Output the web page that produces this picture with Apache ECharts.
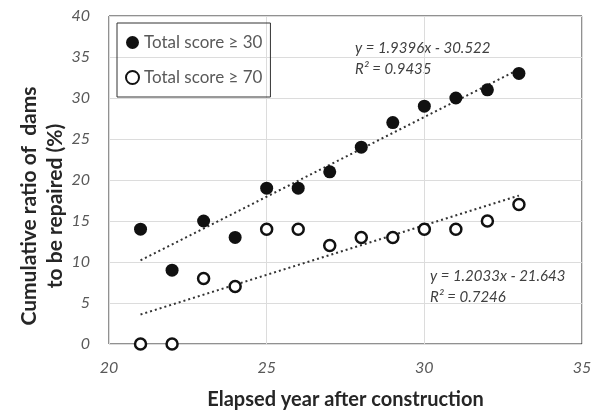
<!DOCTYPE html>
<html><head><meta charset="utf-8">
<script src="https://cdn.jsdelivr.net/npm/echarts@6/dist/echarts.min.js"></script>
<style>html,body{margin:0;padding:0;background:#fff}#c{width:600px;height:415px}</style>
</head><body><div id="c"></div>
<script>
var years = [21,22,23,24,25,26,27,28,29,30,31,32,33];
var score30 = [14,9,15,13,19,19,21,24,27,29,30,31,33];
var score70 = [0,0,8,7,14,14,12,13,13,14,14,15,17];
var trend30 = [[21,10.2],[33,33.5]];
var trend70 = [[21,3.6],[33,18.1]];
var xTicks = [20,25,30,35];
var yTicks = [0,5,10,15,20,25,30,35,40];
var eq30 = ['y = 1.9396x - 30.522','R² = 0.9435'];
var eq70 = ['y = 1.2033x - 21.643','R² = 0.7246'];
var xTitle = 'Elapsed year after construction';
var yTitle = 'Cumulative ratio of  dams\nto be repaired (%)';

var font = 'Lato';
var chart = echarts.init(document.getElementById('c'), null, {renderer:'canvas'});
function pairs(ys){return years.map(function(x,i){return [x, ys[i]];});}
chart.setOption({
  animation:false,
  backgroundColor:'#fff',
  grid:{left:109,right:18,top:16,bottom:70,show:true,borderColor:'#222',borderWidth:1,containLabel:false},
  xAxis:{type:'value',min:xTicks[0],max:xTicks[xTicks.length-1],interval:5,
    axisLine:{show:false},axisTick:{show:false},
    splitLine:{show:true,lineStyle:{color:'#dcdcdc',width:1}},
    axisLabel:{margin:16,color:'#595959',fontSize:16,fontStyle:'italic',fontFamily:font},
    name:xTitle,nameLocation:'middle',nameGap:46,
    nameTextStyle:{fontSize:20,fontWeight:'bold',color:'#262626',fontFamily:font}},
  yAxis:{type:'value',min:yTicks[0],max:yTicks[yTicks.length-1],interval:5,
    axisLine:{show:false},axisTick:{show:false},
    splitLine:{show:true,lineStyle:{color:'#dcdcdc',width:1}},
    axisLabel:{margin:19,color:'#595959',fontSize:16,fontStyle:'italic',fontFamily:font}},
  legend:{show:true,orient:'vertical',left:117,top:23,itemGap:18,
    padding:[11,8,11,8],borderColor:'#333',borderWidth:1,
    itemWidth:13,itemHeight:13,
    textStyle:{fontSize:17,color:'#595959',fontFamily:font},
    data:['Total score ≥ 30','Total score ≥ 70']},
  series:[
    {type:'line',data:trend30,symbol:'none',silent:true,lineStyle:{color:'#333',width:2,type:[2,3]},z:1},
    {type:'line',data:trend70,symbol:'none',silent:true,lineStyle:{color:'#333',width:2,type:[2,3]},z:1},
    {name:'Total score ≥ 30',type:'scatter',data:pairs(score30),symbol:'circle',symbolSize:13,
      itemStyle:{color:'#111',opacity:1},z:3},
    {name:'Total score ≥ 70',type:'scatter',data:pairs(score70),symbol:'circle',symbolSize:11,
      itemStyle:{color:'#fff',borderColor:'#111',borderWidth:2.5,opacity:1},z:3}
  ],
  graphic:[
    {type:'text',left:355,top:38,style:{text:eq30.join('\n'),fill:'#404040',font:'italic 15px '+font,align:'center',lineHeight:21}},
    {type:'text',left:430,top:266,style:{text:eq70.join('\n'),fill:'#404040',font:'italic 15px '+font,align:'center',lineHeight:21}},
    {type:'text',x:42,y:206,rotation:Math.PI/2,
      style:{text:yTitle,fill:'#262626',font:'bold 21px '+font,align:'center',verticalAlign:'middle',lineHeight:26}}
  ]
});
</script></body></html>
